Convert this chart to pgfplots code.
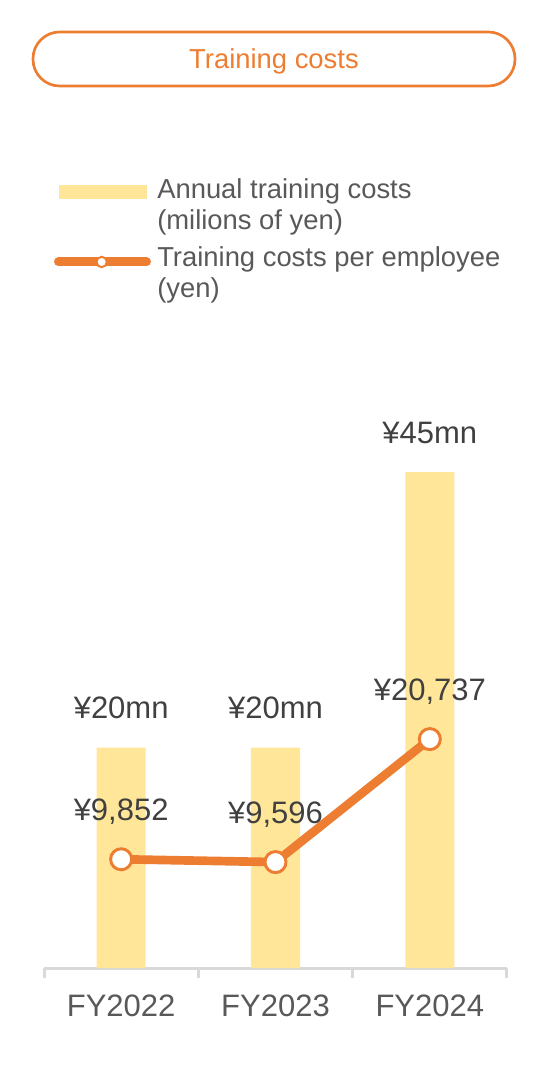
\documentclass[border=0pt]{standalone}
\usepackage{fontspec}
\setmainfont{Liberation Sans}
\usepackage{pgfplots}
\usepackage{pgfplotstable}
\pgfplotsset{compat=1.18}

\definecolor{costorange}{HTML}{ED7D31}
\definecolor{baryellow}{HTML}{FFE699}
\definecolor{axisgray}{HTML}{D9D9D9}
\definecolor{valgray}{HTML}{404040}
\definecolor{txtgray}{HTML}{595959}

% annual training costs (millions of yen)
\pgfplotstableread{
x cost
0 20
1 20
2 45
}\annualcost
% training costs per employee (yen)
\pgfplotstableread{
x yen
0 9852
1 9596
2 20737
}\peremployee

\newcommand\valfont{\fontsize{23.25pt}{28pt}\selectfont}
\newcommand\legfont{\fontsize{20.55pt}{24pt}\selectfont}

\begin{document}
\begin{tikzpicture}
% title box and legend, in pixels of the reference (origin top left)
\begin{scope}[x=0.75pt,y=-0.75pt,shift={(-44,-968)}]
  \path[use as bounding box] (0,0) rectangle (548,1082);
  \draw[costorange,line width=2pt,rounded corners=20pt] (33,32) rectangle (515,86);
  \node[anchor=base,inner sep=0,text=costorange,font=\legfont] at (274,69) {Training costs};
  \fill[baryellow] (59,185) rectangle (147,199);
  \draw[costorange,line width=6.75pt,line cap=round] (58.5,262) -- (146.5,262);
  \draw[costorange,line width=1.5pt,fill=white] (101.7,262) circle[radius=3.9pt];
  \begin{scope}[every node/.style={anchor=base west,inner sep=0,text=txtgray,font=\legfont}]
    \node at (157,199) {Annual training costs};
    \node at (157,230) {(milions of yen)};
    \node at (157,267) {Training costs per employee};
    \node at (157,298) {(yen)};
  \end{scope}
\end{scope}

\begin{axis}[
  scale only axis, width=347.25pt, height=441pt,
  xmin=-0.5, xmax=2.5, ymin=0, ymax=53.36,
  axis x line*=bottom, axis y line=none,
  x axis line style={axisgray,line width=2.25pt,-},
  xtick={0,1,2}, xticklabels={FY2022,FY2023,FY2024},
  minor xtick={-0.5,0.5,1.5,2.5},
  xtick pos=bottom, xtick align=outside,
  major tick length=0pt, minor tick length=7.5pt,
  minor tick style={axisgray,line width=2.25pt},
  xticklabel style={font=\valfont,text=txtgray,anchor=base,yshift=-36pt},
  ytick=\empty,
  clip=false,
  nodes near coords={¥\pgfmathprintnumber[fixed,precision=0,assume math mode=true]{\pgfplotspointmeta}mn},
  every node near coord/.append style={font=\valfont,text=valgray,anchor=base,yshift=21.75pt},
]
\addplot[ybar,bar width=36.75pt,fill=baryellow,draw=none] table[x=x,y=cost]{\annualcost};
\end{axis}

\begin{axis}[
  scale only axis, width=347.25pt, height=441pt,
  xmin=-0.5, xmax=2.5, ymin=0, ymax=53273,
  hide axis, clip=false,
  nodes near coords={¥\pgfmathprintnumber[fixed,precision=0,1000 sep={,},assume math mode=true]{\pgfplotspointmeta}},
  every node near coord/.append style={font=\valfont,text=valgray,anchor=base,yshift=29.25pt},
]
\addplot[costorange,line width=6.5pt,mark=*,mark size=7.9pt,
  mark options={fill=white,draw=costorange,line width=2.2pt}]
  table[x=x,y=yen]{\peremployee};
\end{axis}
\end{tikzpicture}
\end{document}
